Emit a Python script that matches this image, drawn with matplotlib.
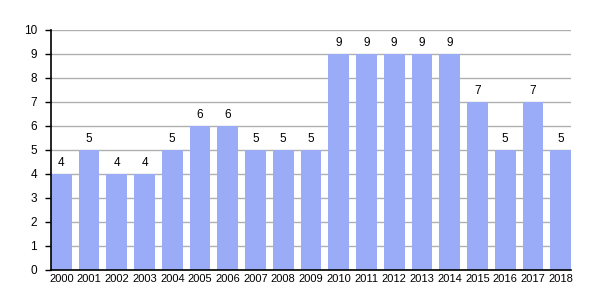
import matplotlib.pyplot as plt

# data
years = [str(y) for y in range(2000, 2019)]
values = [4, 5, 4, 4, 5, 6, 6, 5, 5, 5, 9, 9, 9, 9, 9, 7, 5, 7, 5]

plt.rcParams['font.family'] = ['Liberation Sans', 'DejaVu Sans']

fig = plt.figure(figsize=(6, 3), dpi=100)
ax = fig.add_axes([51 / 600, 30 / 300, 520 / 600, 240 / 300])

bw = 0.74
x = range(len(years))
bars = ax.bar(x, values, width=bw, color='#9aabf8', zorder=2)

for xi, v in zip(x, values):
    ax.text(xi, v + 0.2, str(v), ha='center', va='bottom', fontsize=8.5)

ax.set_xlim(-bw / 2, len(years) - 1 + bw / 2)
ax.set_ylim(0, 10)
ax.set_yticks(range(0, 11))
ax.set_xticks(list(x))
ax.set_xticklabels(years, fontsize=8)
ax.tick_params(axis='y', labelsize=8.5, length=4, width=1, pad=6)
ax.tick_params(axis='x', length=0, pad=3)

ax.grid(axis='y', color='#b0b0b0', linewidth=1, zorder=0)
ax.set_axisbelow(True)
for s in ['top', 'right']:
    ax.spines[s].set_visible(False)
ax.spines['left'].set_linewidth(1.2)
ax.spines['bottom'].set_linewidth(1.2)

fig.savefig('out.png', dpi=100)
